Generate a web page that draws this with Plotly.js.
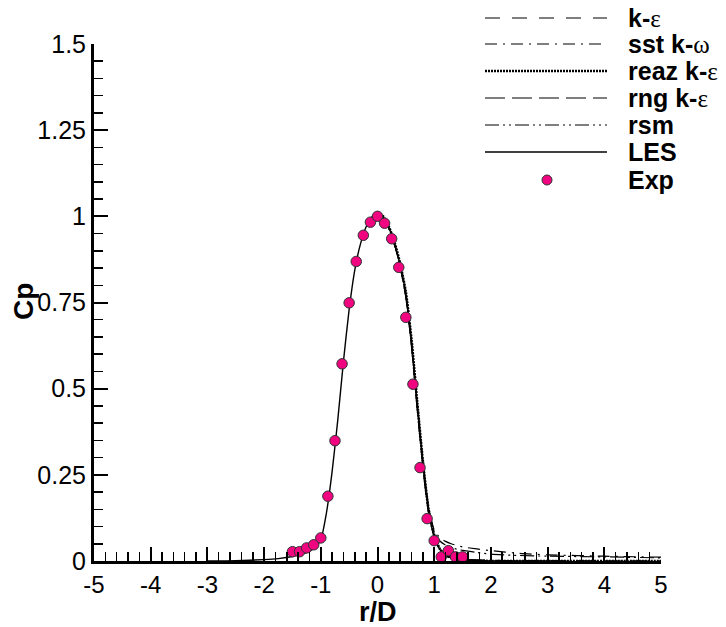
<!DOCTYPE html>
<html>
<head>
<meta charset="utf-8">
<script src="https://cdn.plot.ly/plotly-3.0.1.min.js"></script>
<style>html,body{margin:0;padding:0;background:#fff;}#chart{width:726px;height:627px;}</style>
</head>
<body>
<div id="chart"></div>
<script>
// ---- data ----
const LES_x = [-3, -2.5, -2, -1.75, -1.5, -1.25, -1.1, -1.0, -0.9, -0.8, -0.7, -0.6, -0.5, -0.4, -0.3, -0.2, -0.1, 0, 0.1, 0.2, 0.3, 0.4, 0.5, 0.6, 0.7, 0.8, 0.9, 1.0, 1.1, 1.2, 1.3, 1.5, 1.75, 2.0, 2.5, 3];
const LES_y = [0, 0.001, 0.004, 0.007, 0.013, 0.024, 0.04, 0.062, 0.14, 0.26, 0.41, 0.58, 0.73, 0.845, 0.92, 0.97, 0.998, 1.01, 0.998, 0.968, 0.922, 0.858, 0.775, 0.635, 0.455, 0.285, 0.145, 0.072, 0.034, 0.017, 0.009, 0.003, 0.001, 0, 0, 0];

const RANS_x = [0, 0.1, 0.2, 0.3, 0.4, 0.5, 0.6, 0.7, 0.8, 0.9, 1.0, 1.1, 1.2, 1.3, 1.4, 1.5, 1.75, 2, 2.5, 3, 4, 5];
const KE_y   = [1.008, 0.996, 0.966, 0.92, 0.856, 0.772, 0.632, 0.452, 0.283, 0.147, 0.075, 0.037, 0.019, 0.011, 0.007, 0.005, 0.003, 0.002, 0.001, 0.001, 0, 0];
const SST_y  = [1.006, 0.994, 0.963, 0.916, 0.852, 0.768, 0.63, 0.455, 0.29, 0.16, 0.09, 0.068, 0.057, 0.05, 0.045, 0.041, 0.035, 0.03, 0.022, 0.018, 0.014, 0.011];
const REAZ_y = [1.012, 1.0, 0.97, 0.925, 0.862, 0.78, 0.642, 0.462, 0.29, 0.15, 0.075, 0.035, 0.017, 0.009, 0.005, 0.003, 0.001, 0, 0, 0, 0, 0];
const RNG_y  = [1.01, 0.997, 0.966, 0.918, 0.852, 0.765, 0.622, 0.44, 0.272, 0.14, 0.07, 0.034, 0.017, 0.009, 0.005, 0.003, 0.001, 0, 0, 0, 0, 0];
const RSM_y  = [1.007, 0.995, 0.965, 0.918, 0.854, 0.77, 0.633, 0.455, 0.288, 0.155, 0.084, 0.058, 0.046, 0.039, 0.034, 0.031, 0.025, 0.02, 0.016, 0.014, 0.012, 0.009];

const EXP_x = [-1.5, -1.375, -1.25, -1.125, -1.0, -0.875, -0.75, -0.625, -0.5, -0.375, -0.25, -0.125, 0, 0.125, 0.25, 0.375, 0.5, 0.625, 0.75, 0.875, 1.0, 1.125, 1.25, 1.375, 1.5];
const EXP_y = [0.027, 0.027, 0.038, 0.047, 0.067, 0.188, 0.349, 0.572, 0.749, 0.869, 0.945, 0.983, 1.0, 0.98, 0.935, 0.852, 0.707, 0.513, 0.271, 0.123, 0.059, 0.012, 0.030, 0.012, 0.012];

const X_TICKS = [-5, -4, -3, -2, -1, 0, 1, 2, 3, 4, 5];
const X_TICK_LABELS = ['-5', '-4', '-3', '-2', '-1', '0', '1', '2', '3', '4', '5'];
const Y_TICKS = [0, 0.25, 0.5, 0.75, 1, 1.25, 1.5];
const Y_TICK_LABELS = ['0', '0.25', '0.5', '0.75', '1', '1.25', '1.5'];

const SERIES_NAMES = ['k-ε', 'sst k-ω', 'reaz k-ε', 'rng k-ε', 'rsm', 'LES', 'Exp'];
const X_TITLE = 'r/D';
const Y_TITLE = 'Cp';

// ---- styles ----
const FONT = 'Liberation Sans, Arial, Helvetica, sans-serif';
const SERIF = 'Liberation Serif, Times New Roman, serif';
const PINK = '#f0047f';
const styles = [
  {dash: '15px,12px', width: 1.2},
  {dash: '12px,6px,2px,6px', width: 1.2},
  {dash: '2px,1px', width: 2.6},
  {dash: '20px,7px', width: 1.2},
  {dash: '14px,4px,2px,4px,2px,4px', width: 1.2},
  {dash: 'solid', width: 1.4}
];
const ransY = [KE_y, SST_y, REAZ_y, RNG_y, RSM_y];

const traces = [];
ransY.forEach((ys, i) => {
  traces.push({x: RANS_x, y: ys, type: 'scatter', mode: 'lines', name: SERIES_NAMES[i],
    line: {color: 'black', width: styles[i].width, dash: styles[i].dash, shape: 'spline', smoothing: 0.6},
    showlegend: false, hoverinfo: 'skip'});
});
traces.push({x: LES_x, y: LES_y, type: 'scatter', mode: 'lines', name: SERIES_NAMES[5],
  line: {color: 'black', width: styles[5].width, shape: 'spline', smoothing: 0.6}, showlegend: false});
traces.push({x: EXP_x, y: EXP_y, type: 'scatter', mode: 'markers', name: SERIES_NAMES[6], cliponaxis: false,
  marker: {symbol: 'circle', size: 10.5, color: PINK, line: {color: '#333', width: 1}}, showlegend: false});

// ---- custom legend (pixel layout converted to paper coords) ----
const PL = 94, PR = 661, PT = 44, PB = 561;
const px = v => (v - PL) / (PR - PL);
const py = v => (PB - v) / (PB - PT);
const rowsY = [18, 44, 71, 98, 125, 152, 180];
const shapes = [];
const annotations = [];
const labelHTML = [
  '<b>k-</b><span style="font-family:' + SERIF + '">ε</span>',
  '<b>sst k-</b><span style="font-family:' + SERIF + '">ω</span>',
  '<b>reaz k-</b><span style="font-family:' + SERIF + '">ε</span>',
  '<b>rng k-</b><span style="font-family:' + SERIF + '">ε</span>',
  '<b>rsm</b>', '<b>LES</b>', '<b>Exp</b>'
];
for (let i = 0; i < 7; i++) {
  if (i < 6) {
    shapes.push({type: 'line', xref: 'paper', yref: 'paper', x0: px(485), x1: px(607), y0: py(rowsY[i]), y1: py(rowsY[i]),
      line: {color: 'black', width: styles[i].width, dash: styles[i].dash}});
  } else {
    shapes.push({type: 'circle', xref: 'paper', yref: 'paper', xsizemode: 'pixel', ysizemode: 'pixel',
      xanchor: px(547), yanchor: py(rowsY[i]), x0: -5, x1: 5, y0: -5, y1: 5,
      fillcolor: PINK, line: {color: '#333', width: 1}});
  }
  annotations.push({xref: 'paper', yref: 'paper', x: px(626), y: py(rowsY[i]), xanchor: 'left', yanchor: 'middle',
    text: labelHTML[i], showarrow: false, font: {family: FONT, size: 25, color: 'black'}});
}
// axis titles placed as text at the reference positions
annotations.push({xref: 'paper', yref: 'paper', x: px(378), y: py(612), xanchor: 'center', yanchor: 'middle',
  text: '<b>' + X_TITLE + '</b>', showarrow: false, font: {family: FONT, size: 27, color: 'black'}});
annotations.push({xref: 'paper', yref: 'paper', x: px(23), y: py(302), xanchor: 'center', yanchor: 'middle',
  textangle: -90, text: '<b>' + Y_TITLE + '</b>', showarrow: false, font: {family: FONT, size: 28, color: 'black'}});

const axisCommon = {
  showgrid: false, zeroline: false, showline: true, linecolor: 'black', linewidth: 3,
  ticks: 'inside', ticklen: 14, tickwidth: 2, tickcolor: 'black', tickmode: 'array',
  tickfont: {family: FONT, size: 25, color: 'black'}, automargin: false
};

const layout = {
  width: 726, height: 627,
  margin: {l: PL, r: 726 - PR, t: PT, b: 627 - PB},
  paper_bgcolor: 'white', plot_bgcolor: 'white',
  font: {family: FONT, color: 'black'},
  showlegend: false,
  xaxis: Object.assign({}, axisCommon, {
    range: [-5, 5], tickvals: X_TICKS, ticktext: X_TICK_LABELS,
    tickfont: {family: FONT, size: 24, color: 'black'},
    minor: {dtick: 0.2, tick0: 0, ticks: 'inside', ticklen: 9, tickwidth: 1.5, tickcolor: 'black', showgrid: false}
  }),
  yaxis: Object.assign({}, axisCommon, {
    range: [0, 1.5], tickvals: Y_TICKS, ticktext: Y_TICK_LABELS,
    minor: {dtick: 0.05, tick0: 0, ticks: 'inside', ticklen: 9, tickwidth: 1.5, tickcolor: 'black', showgrid: false}
  }),
  shapes: shapes,
  annotations: annotations
};

Plotly.newPlot('chart', traces, layout, {staticPlot: true, displayModeBar: false});
</script>
</body>
</html>
